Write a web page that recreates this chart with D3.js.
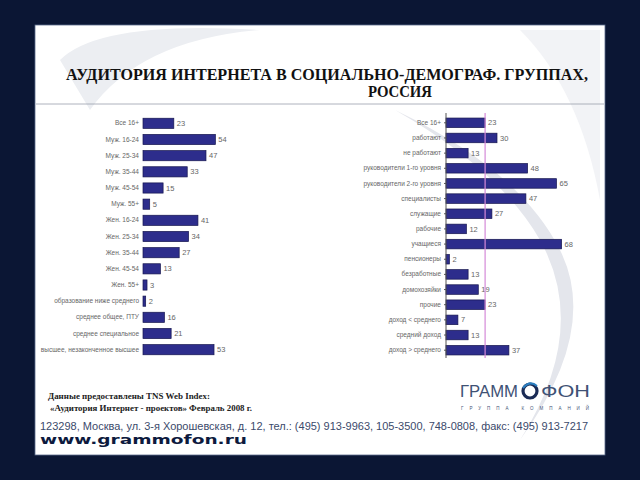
<!DOCTYPE html>
<html><head><meta charset="utf-8">
<script src="https://cdn.jsdelivr.net/npm/d3@7"></script>
<style>html,body{margin:0;padding:0;background:#0b1634;}svg{display:block;}</style>
</head><body>
<script>
const leftCategories = ["Все 16+","Муж. 16-24","Муж. 25-34","Муж. 35-44","Муж. 45-54","Муж. 55+","Жен. 16-24","Жен. 25-34","Жен. 35-44","Жен. 45-54","Жен. 55+","образование ниже среднего","среднее общее, ПТУ","среднее специальное","высшее, незаконченное высшее"];
const leftValues = [23,54,47,33,15,5,41,34,27,13,3,2,16,21,53];
const rightCategories = ["Все 16+","работают","не работают","руководители 1-го уровня","руководители 2-го уровня","специалисты","служащие","рабочие","учащиеся","пенсионеры","безработные","домохозяйки","прочие","доход < среднего","средний доход","доход > среднего"];
const rightValues = [23,30,13,48,65,47,27,12,68,2,13,19,23,7,13,37];
const referenceValue = 23;
const titleLines = ["АУДИТОРИЯ ИНТЕРНЕТА В СОЦИАЛЬНО-ДЕМОГРАФ. ГРУППАХ,","РОССИЯ"];
const sourceLines = ["Данные предоставлены TNS Web Index:","«Аудитория Интернет - проектов» Февраль 2008 г."];
const address = "123298, Москва, ул. 3-я Хорошевская, д. 12, тел.: (495) 913-9963, 105-3500, 748-0808, факс: (495) 913-7217";
const site = "www.grammofon.ru";

const W=640,H=480;
const svg=d3.select("body").append("svg").attr("width",W).attr("height",H);
const defs=svg.append("defs");

svg.append("rect").attr("width",W).attr("height",H).attr("fill","#0b1634");
svg.append("rect").attr("x",35).attr("y",25).attr("width",570).attr("height",430).attr("fill","#ffffff").attr("stroke","#5a6a8a").attr("stroke-width",0.8);
// decorative swooshes
const clip=defs.append("clipPath").attr("id","pc");
clip.append("rect").attr("x",35).attr("y",25).attr("width",570).attr("height",430);
const deco=svg.append("g").attr("clip-path","url(#pc)");
deco.append("path").attr("d","M60,60 Q100,20 260,30 Q140,40 90,110 Z").attr("fill","#eceef2");
deco.append("path").attr("d","M395,110 Q520,170 560,250 Q600,330 520,440 Q590,330 540,240 Q500,170 395,110 Z").attr("fill","#e4e6ec");
deco.append("path").attr("d","M520,30 L600,30 L600,200 Q580,90 520,30 Z").attr("fill","#f2f3f6");

const serif="Liberation Serif, Times New Roman, serif";
// title
svg.append("text").attr("x",66).attr("y",80)
  .attr("font-family",serif).attr("font-weight","bold").attr("font-size",16).attr("fill","#111")
  .attr("textLength",522).attr("lengthAdjust","spacingAndGlyphs").text(titleLines[0]);
svg.append("text").attr("x",368).attr("y",97)
  .attr("font-family",serif).attr("font-weight","bold").attr("font-size",16).attr("fill","#111")
  .attr("textLength",64).attr("lengthAdjust","spacingAndGlyphs").text(titleLines[1]);
svg.append("line").attr("x1",36).attr("x2",604).attr("y1",104).attr("y2",104).attr("stroke","#9aa0ac").attr("stroke-width",0.8);

const barFill="#2d2d8c", barStroke="#16164f";
const labelFont="Liberation Sans, Arial, sans-serif";

// left chart
const xl=d3.scaleLinear().domain([0,100]).range([143,277]);
const yl=d3.scaleBand().domain(leftCategories).range([115,358]).paddingInner(0.37).paddingOuter(0.2);
const gl=svg.append("g");
gl.selectAll("rect").data(leftCategories).join("rect")
  .attr("x",xl(0)).attr("y",d=>yl(d)).attr("height",yl.bandwidth())
  .attr("width",(d,i)=>xl(leftValues[i])-xl(0)).attr("fill",barFill).attr("stroke",barStroke).attr("stroke-width",0.7);
gl.selectAll("text.v").data(leftCategories).join("text").attr("class","v")
  .attr("x",(d,i)=>xl(leftValues[i])+3).attr("y",d=>yl(d)+yl.bandwidth()/2).attr("dy","0.35em")
  .attr("font-family",labelFont).attr("font-size",7.5).attr("fill","#666").text((d,i)=>leftValues[i]);
const axL=d3.axisLeft(yl).tickSize(0).tickPadding(4);
const axLg=svg.append("g").attr("transform",`translate(${xl(0)},0)`).call(axL);
axLg.select(".domain").remove();
axLg.selectAll("text").attr("font-family",labelFont).attr("font-size",6.5).attr("fill","#666");

// right chart
const xr=d3.scaleLinear().domain([0,100]).range([446,616]);
const yr=d3.scaleBand().domain(rightCategories).range([115,358]).paddingInner(0.37).paddingOuter(0.2);
const gr=svg.append("g");
gr.selectAll("rect").data(rightCategories).join("rect")
  .attr("x",xr(0)).attr("y",d=>yr(d)).attr("height",yr.bandwidth())
  .attr("width",(d,i)=>xr(rightValues[i])-xr(0)).attr("fill",barFill).attr("stroke",barStroke).attr("stroke-width",0.7);
gr.selectAll("text.v").data(rightCategories).join("text").attr("class","v")
  .attr("x",(d,i)=>xr(rightValues[i])+3).attr("y",d=>yr(d)+yr.bandwidth()/2).attr("dy","0.35em")
  .attr("font-family",labelFont).attr("font-size",7.5).attr("fill","#666").text((d,i)=>rightValues[i]);
const axR=d3.axisLeft(yr).tickSize(2).tickPadding(3).tickSizeOuter(0);
const axRg=svg.append("g").attr("transform",`translate(${xr(0)},0)`).call(axR);
axRg.select(".domain").attr("stroke","#555").attr("d",`M0,113V358`);
axRg.selectAll(".tick line").attr("stroke","#555");
axRg.selectAll("text").attr("font-family",labelFont).attr("font-size",6.5).attr("fill","#666");
svg.append("line").attr("x1",xr(referenceValue)).attr("x2",xr(referenceValue)).attr("y1",113).attr("y2",358)
  .attr("stroke","#d58ad8").attr("stroke-width",1.2);

// source
const srcLen=[162,202];
sourceLines.forEach((t,i)=>svg.append("text").attr("x",i?50:48).attr("y",399+i*12)
  .attr("font-family",serif).attr("font-weight","bold").attr("font-size",8.8).attr("fill","#222")
  .attr("textLength",srcLen[i]).attr("lengthAdjust","spacingAndGlyphs").text(t));

// logo
const logo=svg.append("g");
logo.append("text").attr("x",460).attr("y",397).attr("font-family",labelFont).attr("font-size",17).attr("fill","#3f5275")
  .attr("textLength",58).attr("lengthAdjust","spacingAndGlyphs").text("ГРАММ");
logo.append("circle").attr("cx",530).attr("cy",391).attr("r",7).attr("fill","none").attr("stroke","#1b2b55").attr("stroke-width",3.2);
logo.append("path").attr("d","M523,388 Q530,380 537,386").attr("fill","none").attr("stroke","#2c7fc0").attr("stroke-width",2);
logo.append("text").attr("x",541).attr("y",397).attr("font-family",labelFont).attr("font-size",17).attr("fill","#3f5275")
  .attr("textLength",49).attr("lengthAdjust","spacingAndGlyphs").text("ФОН");
logo.append("text").attr("x",461).attr("y",410).attr("font-family",labelFont).attr("font-size",4.5).attr("fill","#3f5275")
  .attr("textLength",128).attr("lengthAdjust","spacing").text("ГРУППА КОМПАНИЙ");

svg.append("text").attr("x",40).attr("y",430).attr("font-family",labelFont).attr("font-size",11.3).attr("fill","#3b4a6b")
  .attr("textLength",548).attr("lengthAdjust","spacingAndGlyphs").text(address);
svg.append("text").attr("x",40).attr("y",444).attr("font-family","DejaVu Sans, Verdana, sans-serif").attr("font-weight","bold").attr("font-size",13).attr("fill","#0d1a3e")
  .attr("textLength",207).attr("lengthAdjust","spacingAndGlyphs").text(site);
</script>
</body></html>
